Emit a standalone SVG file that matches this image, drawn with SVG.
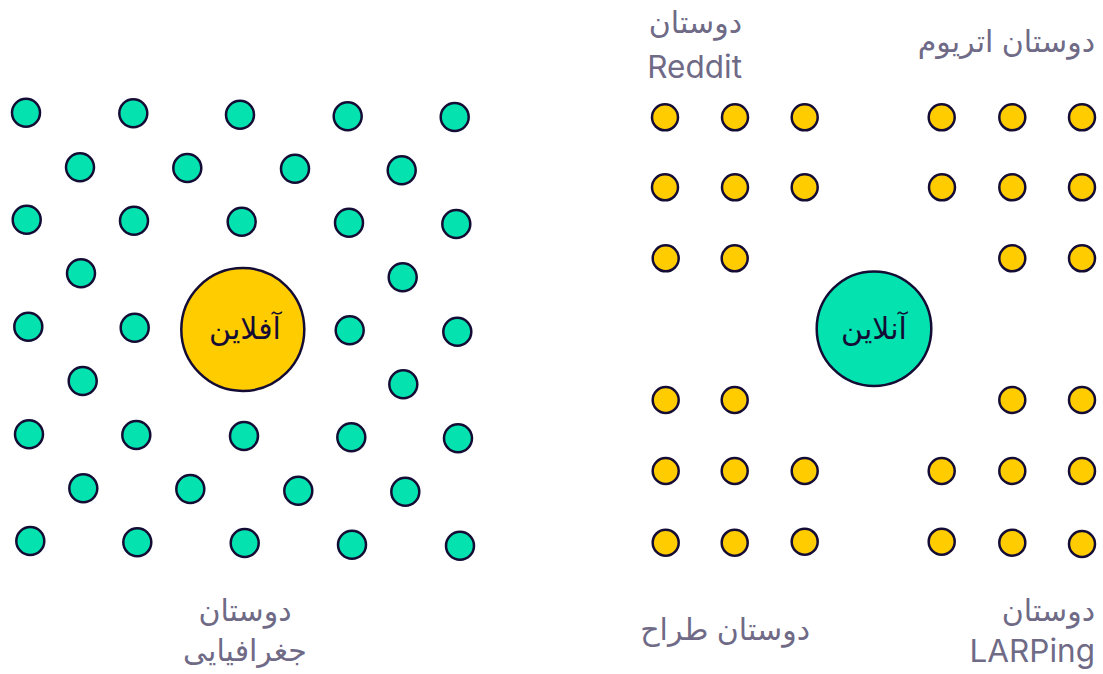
<svg xmlns="http://www.w3.org/2000/svg" width="1103" height="674" viewBox="0 0 1103 674">
<style>
.g{fill:#03E2AF;stroke:#140C35;stroke-width:2.5}
.y{fill:#FFCC00;stroke:#140C35;stroke-width:2.5}
.lbl{font-family:Inter,"DejaVu Sans",sans-serif;font-size:30px;fill:#6F6A86}
.lat{font-size:31.5px}
.ctr{font-family:Inter,"DejaVu Sans",sans-serif;font-size:30px;fill:#140C35;text-anchor:middle}
</style>
<rect width="1103" height="674" fill="#FFFFFF"/>
<g id="offline-friends">
<g id="c1-1"><circle class="g" cx="26" cy="112.7" r="14"/></g>
<g id="c1-2"><circle class="g" cx="133.3" cy="113.3" r="14"/></g>
<g id="c1-3"><circle class="g" cx="240" cy="114.7" r="14"/></g>
<g id="c1-4"><circle class="g" cx="347.7" cy="116.3" r="14"/></g>
<g id="c1-5"><circle class="g" cx="454.7" cy="117" r="14"/></g>
<g id="c2-1"><circle class="g" cx="80" cy="167.3" r="14"/></g>
<g id="c2-2"><circle class="g" cx="187.3" cy="168" r="14"/></g>
<g id="c2-3"><circle class="g" cx="295" cy="168.7" r="14"/></g>
<g id="c2-4"><circle class="g" cx="401.7" cy="170.3" r="14"/></g>
<g id="c3-1"><circle class="g" cx="26.7" cy="219.7" r="14"/></g>
<g id="c3-2"><circle class="g" cx="134" cy="220.7" r="14"/></g>
<g id="c3-3"><circle class="g" cx="241.7" cy="221.7" r="14"/></g>
<g id="c3-4"><circle class="g" cx="349" cy="222.7" r="14"/></g>
<g id="c3-5"><circle class="g" cx="456.3" cy="224" r="14"/></g>
<g id="c4-1"><circle class="g" cx="81" cy="273.3" r="14"/></g>
<g id="c4-4"><circle class="g" cx="402.7" cy="277.3" r="14"/></g>
<g id="c5-1"><circle class="g" cx="28.3" cy="326.7" r="14"/></g>
<g id="c5-2"><circle class="g" cx="134.7" cy="327.7" r="14"/></g>
<g id="c5-4"><circle class="g" cx="349.7" cy="330.3" r="14"/></g>
<g id="c5-5"><circle class="g" cx="457.3" cy="331.7" r="14"/></g>
<g id="c6-1"><circle class="g" cx="82.7" cy="381" r="14"/></g>
<g id="c6-4"><circle class="g" cx="403.3" cy="384.3" r="14"/></g>
<g id="c7-1"><circle class="g" cx="29" cy="434.3" r="14"/></g>
<g id="c7-2"><circle class="g" cx="136.3" cy="435" r="14"/></g>
<g id="c7-3"><circle class="g" cx="244" cy="436" r="14"/></g>
<g id="c7-4"><circle class="g" cx="351.3" cy="437.3" r="14"/></g>
<g id="c7-5"><circle class="g" cx="458" cy="438.3" r="14"/></g>
<g id="c8-1"><circle class="g" cx="83.3" cy="488.3" r="14"/></g>
<g id="c8-2"><circle class="g" cx="190.3" cy="489" r="14"/></g>
<g id="c8-3"><circle class="g" cx="298.3" cy="490.7" r="14"/></g>
<g id="c8-4"><circle class="g" cx="405.3" cy="491.7" r="14"/></g>
<g id="c9-1"><circle class="g" cx="30.3" cy="541" r="14"/></g>
<g id="c9-2"><circle class="g" cx="137.3" cy="542.3" r="14"/></g>
<g id="c9-3"><circle class="g" cx="244.7" cy="543" r="14"/></g>
<g id="c9-4"><circle class="g" cx="352" cy="544.7" r="14"/></g>
<g id="c9-5"><circle class="g" cx="460" cy="545.7" r="14"/></g>
</g>
<g id="offline">
<circle class="y" cx="242.8" cy="329.5" r="61.5"/>
<text class="ctr" x="245" y="339">آفلاین</text>
</g>
<g id="online-friends">
<g id="y1-1"><circle class="y" cx="665" cy="117.3" r="13"/></g>
<g id="y1-2"><circle class="y" cx="735" cy="117.3" r="13"/></g>
<g id="y1-3"><circle class="y" cx="804.7" cy="117.3" r="13"/></g>
<g id="y1-4"><circle class="y" cx="941.7" cy="117.3" r="13"/></g>
<g id="y1-5"><circle class="y" cx="1012.3" cy="117.3" r="13"/></g>
<g id="y1-6"><circle class="y" cx="1082" cy="117.3" r="13"/></g>
<g id="y2-1"><circle class="y" cx="665" cy="187.3" r="13"/></g>
<g id="y2-2"><circle class="y" cx="735" cy="187.3" r="13"/></g>
<g id="y2-3"><circle class="y" cx="804.7" cy="187.3" r="13"/></g>
<g id="y2-4"><circle class="y" cx="942" cy="187.3" r="13"/></g>
<g id="y2-5"><circle class="y" cx="1012.3" cy="187.3" r="13"/></g>
<g id="y2-6"><circle class="y" cx="1082" cy="187.3" r="13"/></g>
<g id="y3-1"><circle class="y" cx="665.7" cy="258.3" r="13"/></g>
<g id="y3-2"><circle class="y" cx="734.7" cy="258.3" r="13"/></g>
<g id="y3-5"><circle class="y" cx="1012.3" cy="258.3" r="13"/></g>
<g id="y3-6"><circle class="y" cx="1082" cy="258.3" r="13"/></g>
<g id="y4-1"><circle class="y" cx="665.7" cy="400" r="13"/></g>
<g id="y4-2"><circle class="y" cx="734.7" cy="400" r="13"/></g>
<g id="y4-5"><circle class="y" cx="1012.3" cy="400" r="13"/></g>
<g id="y4-6"><circle class="y" cx="1082" cy="400" r="13"/></g>
<g id="y5-1"><circle class="y" cx="665.7" cy="471" r="13"/></g>
<g id="y5-2"><circle class="y" cx="734.7" cy="471" r="13"/></g>
<g id="y5-3"><circle class="y" cx="804.7" cy="471" r="13"/></g>
<g id="y5-4"><circle class="y" cx="941.7" cy="471" r="13"/></g>
<g id="y5-5"><circle class="y" cx="1012.3" cy="471" r="13"/></g>
<g id="y5-6"><circle class="y" cx="1082" cy="471" r="13"/></g>
<g id="y6-1"><circle class="y" cx="665.7" cy="542.7" r="13"/></g>
<g id="y6-2"><circle class="y" cx="734.7" cy="542.7" r="13"/></g>
<g id="y6-3"><circle class="y" cx="804.7" cy="541.7" r="13"/></g>
<g id="y6-4"><circle class="y" cx="941.7" cy="541.7" r="13"/></g>
<g id="y6-5"><circle class="y" cx="1012.3" cy="542.7" r="13"/></g>
<g id="y6-6"><circle class="y" cx="1082" cy="544" r="13"/></g>
</g>
<g id="online">
<circle class="g" cx="874" cy="328.7" r="57.3"/>
<text class="ctr" x="874" y="339">آنلاین</text>
</g>
<g id="labels">
<text class="lbl" x="742" y="33" text-anchor="end">دوستان</text>
<text class="lbl lat" x="742" y="78" text-anchor="end">Reddit</text>
<text class="lbl" x="1095" y="52" text-anchor="end">دوستان اتریوم</text>
<text class="lbl" x="245" y="621" text-anchor="middle">دوستان</text>
<text class="lbl" x="245" y="661" text-anchor="middle">جغرافیایی</text>
<text class="lbl" x="810" y="640" text-anchor="end">دوستان طراح</text>
<text class="lbl" x="1095" y="621" text-anchor="end">دوستان</text>
<text class="lbl lat" x="1095" y="662" text-anchor="end">LARPing</text>
</g>
</svg>
